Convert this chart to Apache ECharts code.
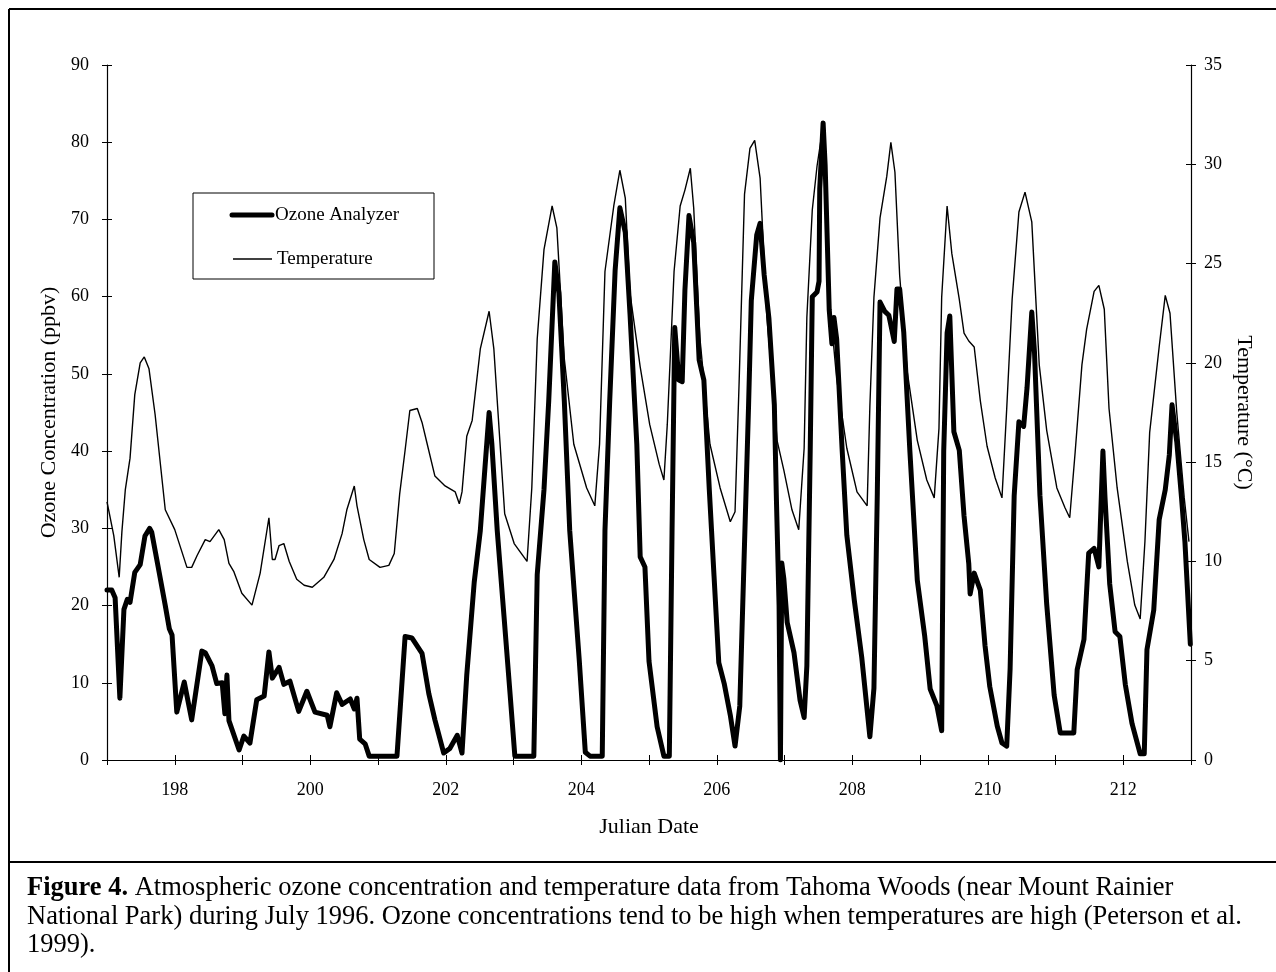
<!DOCTYPE html>
<html>
<head>
<meta charset="utf-8">
<title>Ozone and temperature, Tahoma Woods</title>
<script src="https://cdn.jsdelivr.net/npm/echarts@6/dist/echarts.min.js"></script>
<style>
  html, body { margin: 0; padding: 0; background: #fff; }
  #chart { width: 1276px; height: 972px; }
</style>
</head>
<body>
<div id="chart"></div>
<script>
// Julian day / ozone (ppbv)
var ozoneDays = [197.00,197.07,197.12,197.19,197.25,197.30,197.34,197.41,197.49,197.56,197.63,197.66,197.77,197.86,197.92,197.96,198.03,198.14,198.25,198.40,198.45,198.55,198.62,198.70,198.74,198.77,198.80,198.95,199.02,199.11,199.21,199.32,199.39,199.44,199.54,199.61,199.70,199.83,199.95,200.07,200.25,200.29,200.39,200.47,200.59,200.65,200.69,200.73,200.81,200.87,201.28,201.40,201.50,201.65,201.75,201.84,201.97,202.06,202.17,202.24,202.31,202.42,202.51,202.58,202.64,202.68,202.76,202.86,202.95,203.02,203.30,203.35,203.45,203.52,203.61,203.67,203.75,203.83,203.97,204.06,204.13,204.31,204.35,204.42,204.50,204.57,204.65,204.72,204.82,204.87,204.94,205.00,205.12,205.22,205.30,205.34,205.38,205.44,205.49,205.53,205.59,205.66,205.74,205.81,205.89,205.96,206.03,206.11,206.20,206.27,206.34,206.40,206.47,206.51,206.59,206.64,206.70,206.77,206.85,206.88,206.92,206.94,206.96,206.99,207.04,207.14,207.23,207.29,207.33,207.38,207.41,207.48,207.51,207.52,207.57,207.60,207.66,207.70,207.73,207.77,207.85,207.92,208.03,208.14,208.26,208.32,208.37,208.41,208.48,208.54,208.62,208.66,208.70,208.76,208.85,208.96,209.07,209.15,209.25,209.32,209.35,209.40,209.44,209.50,209.58,209.65,209.72,209.74,209.80,209.89,209.96,210.03,210.14,210.21,210.28,210.33,210.39,210.46,210.53,210.58,210.65,210.69,210.77,210.87,210.98,211.07,211.14,211.27,211.32,211.42,211.49,211.57,211.64,211.70,211.73,211.80,211.88,211.95,212.03,212.13,212.25,212.31,212.35,212.45,212.53,212.62,212.68,212.72,212.79,212.86,212.91,212.99];
var ozoneValues = [22,22,21,8,19.5,20.8,20.4,24.3,25.3,29,30,29.5,24.3,20,17,16.2,6.2,10.1,5.2,14.1,13.9,12.2,9.9,10,6,11,5.1,1.3,3.1,2.2,7.8,8.3,14,10.6,12,9.8,10.2,6.3,8.9,6.2,5.8,4.3,8.7,7.2,7.9,6.6,8,2.7,2.1,0.5,0.5,16,15.8,13.8,8.6,5.2,0.9,1.5,3.2,0.9,11,23,29.7,38,45,41,29.7,18.6,8.5,0.5,0.5,24,35,46.5,64.5,60.5,46.5,29.7,13,1,0.5,0.5,29.7,46.5,63.4,71.5,68.3,57.7,40.9,26.3,25,12.8,4.3,0.5,0.5,29.5,56,49.2,49,60.8,70.5,67,51.8,49.2,35,23.8,12.6,9.9,5.8,1.8,7,25,46,59.5,68,69.5,62.8,57.2,46,34,20,0,25.5,23.5,17.8,13.9,7.7,5.5,12.2,40.3,60,60.6,62,74,82.5,77,58.3,53.9,57.3,54.5,40.3,29.1,20.7,13.3,3,9.3,34.6,59.3,58.1,57.6,54.2,61,61,55.4,40.1,23.3,16,9.2,7,3.8,40,55.3,57.5,42.5,40.1,31.6,25.4,21.5,24.2,22,14.8,9.5,4.4,2.2,1.8,11.8,34.2,43.8,43.2,48.2,58,52.8,34.3,20.2,8.4,3.5,3.5,3.5,11.7,15.6,26.8,27.4,25,40,34.1,22.8,16.6,16,9.8,4.7,0.8,0.8,14.3,19.4,31.1,35,39.5,46,41.2,34,28.3,15];

// Julian day / temperature (deg C)
var tempDays = [197.00,197.03,197.10,197.18,197.22,197.27,197.34,197.41,197.49,197.55,197.62,197.71,197.86,198.00,198.18,198.25,198.33,198.45,198.52,198.65,198.73,198.80,198.87,198.99,199.14,199.26,199.39,199.44,199.48,199.54,199.61,199.69,199.80,199.91,200.03,200.20,200.35,200.47,200.54,200.65,200.69,200.79,200.87,201.03,201.16,201.24,201.32,201.40,201.47,201.58,201.65,201.72,201.84,201.99,202.14,202.20,202.24,202.31,202.39,202.51,202.64,202.71,202.80,202.87,203.01,203.20,203.27,203.35,203.45,203.57,203.64,203.75,203.89,204.08,204.20,204.27,204.35,204.48,204.57,204.65,204.72,204.87,205.01,205.15,205.22,205.27,205.37,205.46,205.53,205.61,205.66,205.75,205.90,206.05,206.20,206.27,206.33,206.41,206.49,206.56,206.64,206.74,206.85,206.89,206.99,207.11,207.21,207.29,207.33,207.41,207.48,207.55,207.60,207.66,207.77,207.92,208.07,208.22,208.26,208.32,208.41,208.51,208.57,208.63,208.70,208.81,208.96,209.10,209.21,209.28,209.32,209.40,209.47,209.58,209.65,209.72,209.80,209.89,209.99,210.11,210.21,210.28,210.36,210.46,210.55,210.65,210.76,210.87,211.02,211.14,211.21,211.29,211.39,211.46,211.57,211.64,211.72,211.79,211.91,212.06,212.17,212.25,212.32,212.39,212.53,212.62,212.69,212.79,212.90,212.97];
var tempValues = [13,12.5,11.3,9.2,11.5,13.6,15.2,18.4,20,20.3,19.7,17.4,12.6,11.6,9.7,9.7,10.3,11.1,11,11.6,11.1,9.9,9.5,8.4,7.8,9.4,12.2,10.1,10.1,10.8,10.9,10,9.1,8.8,8.7,9.2,10.1,11.4,12.6,13.8,12.8,11.1,10.1,9.7,9.8,10.4,13.4,15.6,17.6,17.7,17,16,14.3,13.8,13.5,12.9,13.5,16.3,17.1,20.7,22.6,20.7,16,12.4,10.9,10,13.7,21.2,25.7,27.9,26.8,20.2,15.9,13.7,12.8,15.9,24.6,27.9,29.7,28.3,23.5,19.8,16.9,14.9,14.1,16.9,24.6,27.9,28.7,29.8,27.8,21.3,15.9,13.7,12,12.5,19,28.5,30.8,31.2,29.3,22.3,17.9,16.1,14.6,12.6,11.6,15.7,22.3,27.7,29.9,31.5,28.8,23.3,19.2,15.7,13.5,12.8,17.8,23.3,27.3,29.4,31.1,29.6,24.4,19.6,16.1,14.1,13.2,16.7,23.3,27.9,25.5,23.2,21.5,21.1,20.8,18.1,15.8,14.2,13.2,17.7,23.2,27.6,28.6,27.1,19.9,16.6,13.7,12.7,12.2,15.5,19.9,21.7,23.6,23.9,22.7,17.7,13.7,10,7.8,7.1,11,16.5,20.8,23.4,22.5,17.5,13.2,11];

var labelDays = [198, 200, 202, 204, 206, 208, 210, 212];
var seriesNames = ['Ozone Analyzer', 'Temperature'];
var captionLines = [
  '{b|Figure 4.} Atmospheric ozone concentration and temperature data from Tahoma Woods (near Mount Rainier',
  'National Park) during July 1996. Ozone concentrations tend to be high when temperatures are high (Peterson et al.',
  '1999).'
];

var serif = '"Liberation Serif", "Times New Roman", serif';

function pairs(xs, ys) {
  return xs.map(function (d, i) { return [d, ys[i]]; });
}

var chart = echarts.init(document.getElementById('chart'));

var labelStyle = { color: '#000', fontFamily: serif, fontSize: 18 };
var nameStyle = { color: '#000', fontFamily: serif, fontSize: 22 };

var graphics = [
  // frame
  { type: 'line', shape: { x1: 9, y1: 9, x2: 1276, y2: 9 }, style: { stroke: '#000', lineWidth: 2 } },
  { type: 'line', shape: { x1: 9, y1: 9, x2: 9, y2: 972 }, style: { stroke: '#000', lineWidth: 2 } },
  { type: 'line', shape: { x1: 9, y1: 862, x2: 1276, y2: 862 }, style: { stroke: '#000', lineWidth: 2 } },
  // legend box, swatches and labels
  { type: 'rect', shape: { x: 193, y: 193, width: 241, height: 86 }, style: { fill: '#fff', stroke: '#000', lineWidth: 1 }, z: 10 },
  { type: 'line', shape: { x1: 232, y1: 215, x2: 272, y2: 215 }, style: { stroke: '#000', lineWidth: 5, lineCap: 'round' }, z: 11 },
  { type: 'text', left: 275, top: 206, style: { text: seriesNames[0], fill: '#000', font: '19px ' + serif }, z: 11 },
  { type: 'line', shape: { x1: 233, y1: 259, x2: 272, y2: 259 }, style: { stroke: '#000', lineWidth: 1.4 }, z: 11 },
  { type: 'text', left: 277, top: 250, style: { text: seriesNames[1], fill: '#000', font: '19px ' + serif }, z: 11 }
];
captionLines.forEach(function (t, i) {
  graphics.push({
    type: 'text', left: 27, top: 875 + i * 28.5,
    style: {
      text: t, fill: '#000', font: '26.5px ' + serif,
      rich: { b: { fontWeight: 'bold', fontSize: 26.5, fontFamily: serif, fill: '#000' } }
    }
  });
});

chart.setOption({
  animation: false,
  backgroundColor: '#fff',
  grid: { left: 107, right: 85, top: 65, height: 695 },
  xAxis: [{
    type: 'value', min: 197, max: 213, interval: 1,
    name: 'Julian Date', nameLocation: 'middle', nameGap: 56, nameTextStyle: nameStyle,
    axisLine: { onZero: false, lineStyle: { color: '#000', width: 1.2 } },
    axisTick: { length: 5, lineStyle: { color: '#000' } },
    axisLabel: Object.assign({ margin: 21, formatter: function (v) { return labelDays.indexOf(v) >= 0 ? String(v) : ''; } }, labelStyle),
    splitLine: { show: false }
  }, {
    type: 'value', min: 197, max: 213, interval: 1, position: 'bottom',
    axisLine: { show: false, onZero: false },
    axisTick: { inside: true, length: 5, lineStyle: { color: '#000' } },
    axisLabel: { show: false }, splitLine: { show: false }
  }],
  yAxis: [{
    type: 'value', min: 0, max: 90, interval: 10, position: 'left',
    name: 'Ozone Concentration (ppbv)', nameLocation: 'middle', nameGap: 45, nameTextStyle: nameStyle,
    axisLine: { show: true, onZero: false, lineStyle: { color: '#000', width: 1.2 } },
    axisTick: { show: true, length: 5, lineStyle: { color: '#000' } },
    axisLabel: Object.assign({ margin: 18 }, labelStyle),
    splitLine: { show: false }
  }, {
    type: 'value', min: 0, max: 35, interval: 5, position: 'right',
    name: 'Temperature (°C)', nameLocation: 'middle', nameGap: 42, nameRotate: -90, nameTextStyle: nameStyle,
    axisLine: { show: true, onZero: false, lineStyle: { color: '#000', width: 1.2 } },
    axisTick: { show: true, length: 5, lineStyle: { color: '#000' } },
    axisLabel: Object.assign({ margin: 13 }, labelStyle),
    splitLine: { show: false }
  }, {
    type: 'value', min: 0, max: 90, interval: 10, position: 'left',
    axisLine: { show: false, onZero: false },
    axisTick: { show: true, inside: true, length: 5, lineStyle: { color: '#000' } },
    axisLabel: { show: false }, splitLine: { show: false }
  }, {
    type: 'value', min: 0, max: 35, interval: 5, position: 'right',
    axisLine: { show: false, onZero: false },
    axisTick: { show: true, inside: true, length: 5, lineStyle: { color: '#000' } },
    axisLabel: { show: false }, splitLine: { show: false }
  }],
  series: [{
    name: seriesNames[1], type: 'line', xAxisIndex: 0, yAxisIndex: 1,
    data: pairs(tempDays, tempValues),
    symbol: 'none', z: 2,
    lineStyle: { color: '#000', width: 1.4 }
  }, {
    name: seriesNames[0], type: 'line', xAxisIndex: 0, yAxisIndex: 0,
    data: pairs(ozoneDays, ozoneValues),
    symbol: 'none', z: 3,
    lineStyle: { color: '#000', width: 5, join: 'round', cap: 'round' }
  }],
  graphic: graphics
});
</script>
</body>
</html>
